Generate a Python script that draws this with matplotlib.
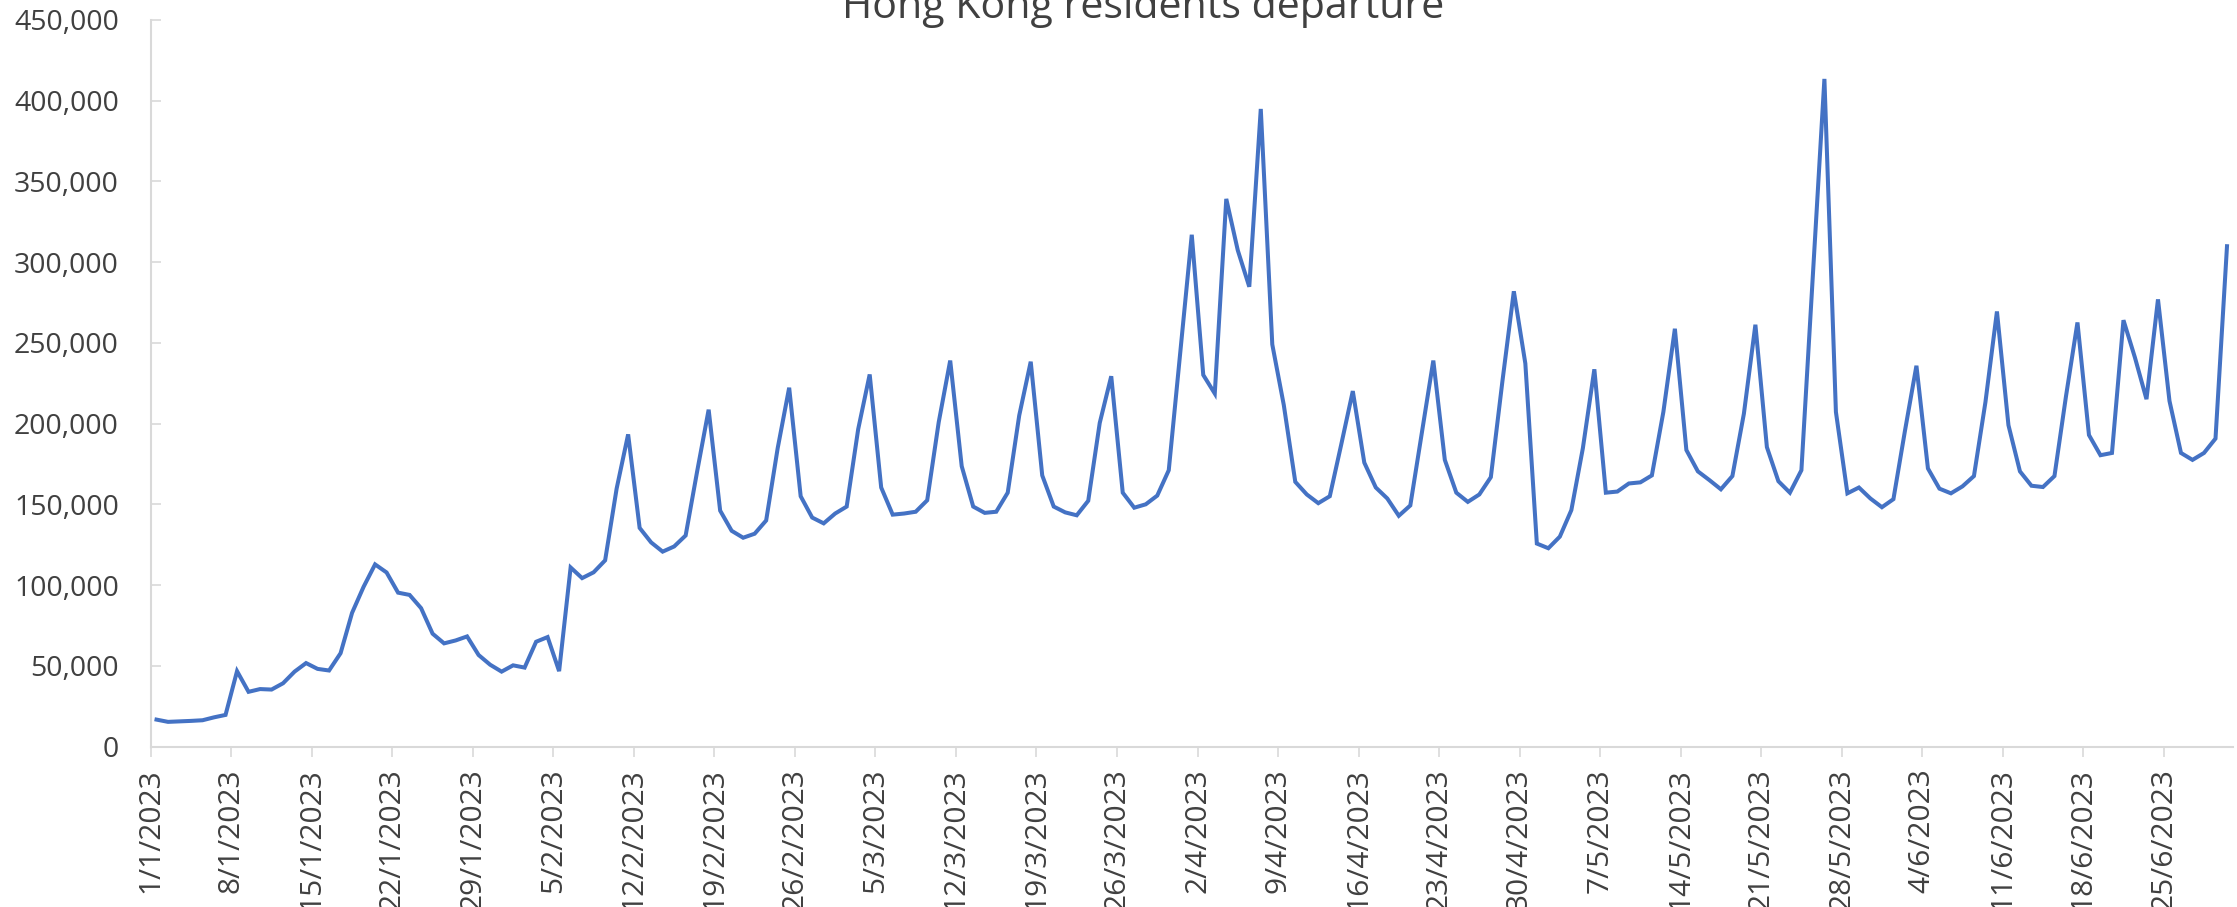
import matplotlib
matplotlib.use("Agg")
import matplotlib.pyplot as plt
import matplotlib.ticker as mticker
import matplotlib.transforms as mtransforms
import numpy as np
import pandas as pd

# daily departures of Hong Kong residents, one list per month
jan = [16800, 15400, 15700, 16000, 16400, 18200, 19700, 46800, 34000, 35700,
       35400, 39300, 46500, 51800, 48200, 47200, 57900, 82900, 99000, 112900,
       107900, 95400, 94000, 85800, 70000, 64000, 65800, 68300, 56800, 50800,
       46500]
feb = [50400, 49000, 65000, 67900, 46800, 111000, 104400, 108000, 115400, 159800,
       193400, 135500, 126500, 120800, 124000, 130800, 170500, 208700, 146200, 133700,
       129400, 131900, 140100, 184800, 222300, 155100, 141900, 138300]
mar = [144400, 148700, 196600, 230500, 160500, 143700, 144400, 145500, 152600, 200900,
       239100, 173700, 148700, 144800, 145500, 157300, 205100, 238400, 168000, 148700,
       145100, 143300, 152300, 200500, 229400, 157300, 148000, 150100, 155500, 171200,
       244000]
apr = [317000, 230200, 218700, 339200, 307400, 284800, 394900, 249100, 211600, 164000,
       156200, 150800, 155100, 187300, 220200, 175900, 160500, 153700, 143000, 149400,
       194400, 239100, 177600, 157300, 151600, 156200, 166900, 225900, 282000, 237300]
may = [125800, 122900, 130100, 146500, 184800, 233700, 157300, 158000, 163000, 163700,
       168000, 207300, 258800, 183700, 170500, 165100, 159400, 167600, 206200, 261300,
       185500, 164400, 157300, 171200, 292000, 413500, 207300, 156900, 160500, 153700,
       148300]
jun = [153300, 195500, 235900, 172300, 159800, 156900, 161200, 167600, 213400, 269500,
       199100, 170500, 161600, 160800, 167600, 216900, 262700, 193000, 180500, 181900,
       264100, 240900, 215200, 277000, 214100, 181900, 177600, 181900, 190800, 309900]

departures = jan + feb + mar + apr + may + jun
dates = pd.date_range("2023-01-01", periods=len(departures), freq="D")
tick_dates = pd.date_range("2023-01-01", "2023-06-25", freq="7D")

text_color = "#404040"
axis_color = "#D9D9D9"
font = "Open Sans"

fig = plt.figure(figsize=(22.37, 9.07), dpi=100)
ax = fig.add_axes([0.0674, 0.1767, 0.9981 - 0.0674, 0.978 - 0.1767])

# points sit in the middle of each day slot
ax.plot(dates + pd.Timedelta(hours=12), departures, color="#4472C4", lw=2.9,
        solid_joinstyle="miter")

ax.set_xlim(pd.Timestamp("2023-01-01"), pd.Timestamp("2023-07-01"))
ax.set_ylim(0, 450000)

ax.set_xticks(tick_dates)
ax.set_xticklabels([f"{d.day}/{d.month}/{d.year}" for d in tick_dates],
                   rotation=90, fontsize=21.5, family=font, color=text_color)
# nudge the date labels a little to the right of their ticks
shift = mtransforms.ScaledTranslation(5 / 72, 0, fig.dpi_scale_trans)
for lab in ax.get_xticklabels():
    lab.set_transform(lab.get_transform() + shift)

ax.set_yticks(np.arange(0, 450001, 50000))
ax.yaxis.set_major_formatter(mticker.FuncFormatter(lambda v, p: f"{int(v):,}"))
for lab in ax.get_yticklabels():
    lab.set_fontsize(20.5)
    lab.set_family(font)
    lab.set_color(text_color)

for side in ["top", "right"]:
    ax.spines[side].set_visible(False)
for side in ["left", "bottom"]:
    ax.spines[side].set_color(axis_color)
    ax.spines[side].set_linewidth(1.5)

ax.tick_params(axis="y", direction="in", length=7.5, width=1.2, color=axis_color, pad=23)
ax.tick_params(axis="x", direction="out", length=7.5, width=1.2, color=axis_color, pad=8)

fig.text(0.511, 1 - 18 / 907, "Hong Kong residents departure", ha="center", va="baseline",
         fontsize=29.6, family=font, color=text_color)

fig.savefig("out.png", dpi=100)
